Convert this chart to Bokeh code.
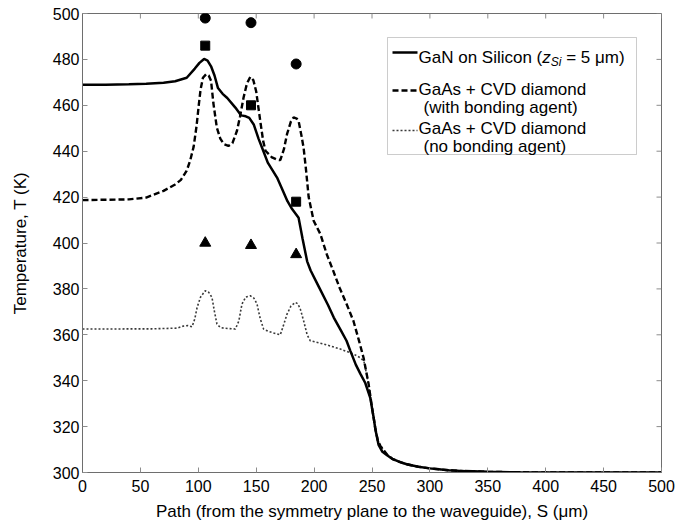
from bokeh.plotting import figure
from bokeh.models import Range1d, FixedTicker, Label, BoxAnnotation
from bokeh.embed import file_html
from bokeh.resources import INLINE

# ---------------- data ----------------
S_gan = [0, 20, 40, 55, 70, 80, 90, 97, 101, 105, 108, 111, 114, 117, 121, 125, 132, 137, 141,
         144, 148, 152, 155, 160, 168, 172, 177, 181, 186.6, 190, 194, 197, 204, 212, 217, 223,
         228, 231.3, 236, 240, 244.2, 248.5, 251.4, 253, 255.7, 259, 263, 268, 274.4, 280, 290,
         300, 316, 330, 350, 375, 400, 450, 500]
T_gan = [469, 469, 469.2, 469.4, 469.8, 470.5, 472, 476, 478.5, 480.2, 479.5, 477, 473, 467.5,
         465, 463.2, 459, 455.6, 455.2, 454.5, 451.5, 445.5, 441.6, 435, 428.5, 424, 418.2,
         414.8, 411, 402, 392, 388, 381, 373, 367.5, 362, 357.4, 353, 347, 343, 339, 332.5,
         324, 318.5, 312, 309, 307.5, 305.8, 304.5, 303.6, 302.5, 301.8, 301, 300.6, 300.3,
         300.1, 300, 300, 300]

S_bond = [0, 40, 55, 70, 80, 85, 90, 93, 96, 98.5, 100.5, 102, 104, 106.9, 109, 111, 113, 116,
          119, 122, 126, 129.5, 133.4, 136, 139.1, 142, 144.9, 147.5, 150, 153.5, 156, 158,
          163.6, 168, 170.8, 174, 176.6, 180, 182.3, 185, 186.6, 189, 190.9, 193, 195.3,
          199.6, 205.4, 211, 216.8, 222, 228.4, 234, 239, 242.7, 247.1, 250, 252.8, 255,
          257.2, 263, 268, 274.4, 280, 290, 300, 316, 330, 350, 375, 400, 450, 500]
T_bond = [418.7, 419, 419.8, 422.7, 425.5, 427.5, 431.5, 436, 442, 451, 460.5, 467, 472, 473.6,
          473, 470.7, 461, 450.3, 445.5, 443.1, 442.3, 443.5, 448.9, 455, 463.4, 469.5, 472.4,
          471, 466, 453.2, 444.5, 440.2, 437.3, 436.3, 436.1, 441, 447.4, 453, 454.7, 454.2,
          453.2, 447, 441.6, 432, 420, 409.7, 403.9, 395, 387.5, 380.5, 373, 366, 357, 350,
          338.5, 328.3, 319.5, 314, 311.6, 307.8, 305.8, 304.5, 303.6, 302.5, 301.8, 301,
          300.6, 300.3, 300.1, 300, 300, 300]

S_nobond = [0, 60, 81.6, 87, 91, 94.6, 97, 99, 102, 106, 109, 111.8, 114, 116.1, 119, 122, 132,
            135, 137.7, 141, 144.9, 148, 150.7, 153.5, 156.4, 160, 163.6, 170.8, 173.5, 176.6,
            180, 183.8, 186, 188.1, 191, 194, 196.7, 208.2, 222.6, 234.1, 239.9, 243, 247.1,
            250, 252.8, 255, 257.2, 263, 268, 274.4, 280, 290, 300, 316, 330, 350, 375, 400,
            450, 500]
T_nobond = [362.5, 362.6, 362.9, 363.8, 364, 363.5, 367, 372, 376.5, 379.2, 378.5, 376.3, 370,
            364.7, 363.2, 362.9, 362.5, 366, 373.4, 376.5, 377, 376, 373.4, 367, 362.5, 361.6,
            361, 360, 364, 369, 372.5, 374.1, 373.5, 371.2, 366, 360, 357.4, 356, 353.8, 351.6,
            350, 348.5, 338.5, 328.3, 319.5, 314, 311.6, 307.8, 305.8, 304.5, 303.6, 302.5,
            301.8, 301, 300.6, 300.3, 300.1, 300, 300, 300]

S_meas = [106, 145.5, 184.5]
T_circle = [498, 496, 478]
T_square = [486, 460, 418]
T_triangle = [400, 399, 395]

x_ticks = [0, 50, 100, 150, 200, 250, 300, 350, 400, 450, 500]
y_ticks = [300, 320, 340, 360, 380, 400, 420, 440, 460, 480, 500]

x_title = "Path (from the symmetry plane to the waveguide), S (μm)"
y_title = "Temperature, T (K)"

# ---------------- layout ----------------
W, H = 675, 531
BL, BR, BT, BB = 82, 14, 13, 59
FW, FH = W - BL - BR, H - BT - BB
X0, X1, Y0, Y1 = 0, 500, 300, 500


def px2x(px):
    return X0 + (px - BL) / FW * (X1 - X0)


def px2y(py):
    return Y1 - (py - BT) / FH * (Y1 - Y0)


AW = {' ': 278, '(': 333, ')': 333, ',': 278, '+': 584, '=': 584, '5': 556,
      'A': 667, 'C': 722, 'D': 722, 'G': 778, 'K': 667, 'N': 722, 'P': 667, 'S': 667,
      'T': 611, 'V': 667, 'a': 556, 'c': 500, 'd': 556, 'e': 556, 'f': 278, 'g': 556,
      'h': 556, 'i': 222, 'l': 222, 'm': 833, 'n': 556, 'o': 556, 'p': 556, 'r': 333,
      's': 500, 't': 278, 'u': 556, 'v': 500, 'w': 722, 'y': 500, 'z': 500, 'μ': 576}


def tw(s, fs):
    return sum(AW.get(c, 556) for c in s) * fs / 1000.0


FONT = "Liberation Sans"
AX = "#6e6e6e"
TK = "#8c8c8c"
TICK = 5

p = figure(width=W, height=H, output_backend="svg", toolbar_location=None,
           x_range=Range1d(X0, X1), y_range=Range1d(Y0, Y1),
           min_border_left=BL, min_border_right=BR, min_border_top=BT, min_border_bottom=BB,
           background_fill_color="white", border_fill_color="white")
p.grid.visible = False
p.outline_line_color = AX
p.outline_line_width = 1

for ax in (p.xaxis[0], p.yaxis[0]):
    ax.axis_line_color = AX
    ax.major_tick_line_color = TK
    ax.major_tick_in = TICK
    ax.major_tick_out = 0
    ax.minor_tick_line_color = None
    ax.major_label_text_font = FONT
    ax.major_label_text_font_size = "16px"
    ax.major_label_text_color = "black"
    ax.axis_label_text_font = FONT
    ax.axis_label_text_font_size = "17px"
    ax.axis_label_text_font_style = "normal"
    ax.axis_label_text_color = "black"
p.xaxis[0].ticker = FixedTicker(ticks=x_ticks)
p.yaxis[0].ticker = FixedTicker(ticks=y_ticks)
p.xaxis[0].major_label_standoff = 7
p.yaxis[0].major_label_standoff = 3
p.xaxis[0].axis_label = x_title
p.yaxis[0].axis_label = y_title
p.xaxis[0].axis_label_standoff = 7
p.yaxis[0].axis_label_standoff = 20

# inward ticks on the top and right edges of the box
dy_t = TICK / FH * (Y1 - Y0)
dx_t = TICK / FW * (X1 - X0)
p.segment(x0=x_ticks, y0=[Y1] * len(x_ticks), x1=x_ticks, y1=[Y1 - dy_t] * len(x_ticks),
          line_color=TK, line_width=1)
p.segment(x0=[X1] * len(y_ticks), y0=y_ticks, x1=[X1 - dx_t] * len(y_ticks), y1=y_ticks,
          line_color=TK, line_width=1)

DOT = "2 2"
DASH = "6 3"

# curves
p.line(S_nobond, T_nobond, line_color="#3a3a3a", line_width=1.6, line_dash=DOT)
p.line(S_bond, T_bond, line_color="black", line_width=2.4, line_dash=DASH)
p.line(S_gan, T_gan, line_color="black", line_width=2.5)

# measured points
p.scatter(S_meas, T_circle, marker="circle", size=10, fill_color="black", line_color="black")
p.scatter(S_meas, T_square, marker="square", size=9, fill_color="black", line_color="black")
p.scatter(S_meas, T_triangle, marker="triangle", size=11, fill_color="black", line_color="black")

# legend
LFS = 17
p.add_layout(BoxAnnotation(left=px2x(387), right=px2x(636), top=px2y(37), bottom=px2y(154),
                           fill_color="white", fill_alpha=1.0, line_color="#555555",
                           line_width=1, level="annotation"))
p.line([px2x(392), px2x(417)], [px2y(52), px2y(52)], line_color="black", line_width=2.5,
       level="overlay")
p.line([px2x(392), px2x(417)], [px2y(90), px2y(90)], line_color="black", line_width=2.4,
       line_dash=DASH, level="overlay")
p.line([px2x(392), px2x(417)], [px2y(130), px2y(130)], line_color="#3a3a3a", line_width=1.6,
       line_dash=DOT, level="overlay")


def lab(text, px, py, fs=LFS, style="normal"):
    p.add_layout(Label(x=px2x(px), y=px2y(py), text=text, text_font=FONT,
                       text_font_size=f"{fs}px", text_font_style=style, text_color="black",
                       text_align="left", text_baseline="alphabetic", level="overlay"))


lx = 418
t1 = "GaN on Silicon ("
lab(t1, lx, 57)
zx = lx + tw(t1, LFS)
lab("z", zx, 57, style="italic")
sx = zx + tw("z", LFS)
lab("Si", sx, 61, fs=12, style="italic")
rx = sx + tw("Si", 12) + tw(" ", LFS)
lab("= 5 μm)", rx, 57)
lab("GaAs + CVD diamond", lx, 89)
lab("(with bonding agent)", 423, 107)
lab("GaAs + CVD diamond", lx, 128)
lab("(no bonding agent)", 423, 146)

open("out.html", "w").write(file_html(p, INLINE))
